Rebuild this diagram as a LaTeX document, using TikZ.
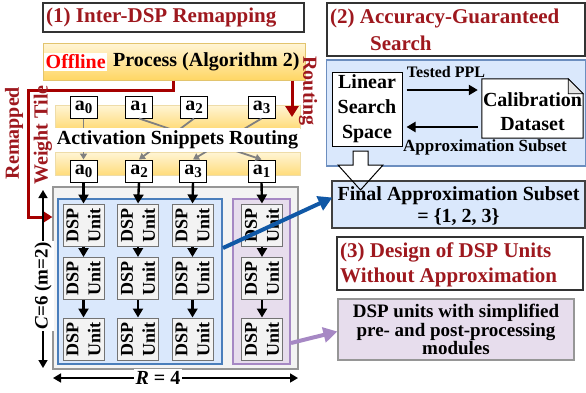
\documentclass[tikz,border=0pt]{standalone}
\usepackage{fontspec}
\setmainfont{Liberation Serif}
\usetikzlibrary{arrows.meta,calc}
\definecolor{dred}{RGB}{158,24,30}
\definecolor{arrred}{RGB}{165,0,0}
\definecolor{yelA}{RGB}{255,245,214}
\definecolor{yelB}{RGB}{255,214,100}
\definecolor{yelD}{RGB}{226,196,110}
\definecolor{lblue}{RGB}{218,232,252}
\definecolor{bblue}{RGB}{74,126,187}
\definecolor{pblue}{RGB}{108,142,191}
\definecolor{lpurp}{RGB}{231,221,237}
\definecolor{bpurp}{RGB}{166,136,196}
\definecolor{lgray}{RGB}{243,243,243}
\definecolor{mgray}{RGB}{150,150,150}
\definecolor{darrow}{RGB}{16,88,166}
\newcommand\myfs[2]{\fontsize{#1}{#2}\selectfont\bfseries}
\newcommand\asub[1]{a\raisebox{-0.35ex}{\fontsize{15}{15}\selectfont #1}}
\begin{document}
\begin{tikzpicture}[x=1pt,y=-1pt,
  box/.style={rectangle, inner sep=0pt},
  abox/.style={box, draw=black, line width=1pt, fill=white, minimum width=27, minimum height=22, font=\myfs{20}{20}},
  dsp/.style={box, draw=gray!90!black, line width=1pt, fill=lgray, rotate=90, minimum width=42, minimum height=41, align=center, font=\myfs{18}{22}},
  band/.style={box, draw=yelD!60, line width=0.8pt, top color=yelA, bottom color=yelB!85, minimum width=245, minimum height=23},
  flow/.style={line width=2.4pt, -{Triangle[length=9pt,width=10pt]}},
  gflow/.style={draw=gray, line width=1.8pt, -{Triangle[length=6pt,width=7pt]}},
  redarr/.style={draw=arrred, line width=3pt},
  title/.style={text=dred, font=\myfs{21}{25}, inner sep=0pt},
  ]
\useasboundingbox (0,0) rectangle (586,392);

% ---------- (1) Inter-DSP Remapping ----------
\node[box, draw=black!80, line width=1.2pt, minimum width=261, minimum height=29] (t1box) at (173.5,17.5) {};
\node[title, anchor=west] (t1) at (46,18) {(1) Inter-DSP Remapping};

\node[box, draw=yelD, line width=1pt, top color=yelA, bottom color=yelB, minimum width=262, minimum height=37] (offbox) at (174,61.5) {};
\node[anchor=west, fill=white, text=red, inner sep=1.5pt, font=\myfs{20}{20}] (off) at (44,62) {Offline};
\node[anchor=west, inner sep=0pt, font=\myfs{20}{20}] (proc) at (113,62) {Process (Algorithm 2)};

% routing bands
\node[band] (bandt) at (177.5,116.5) {};
\node[band] (bandb) at (177.5,163.5) {};

\node[abox] (at0) at (83.5,107) {\asub{0}};
\node[abox] (at1) at (139,107) {\asub{1}};
\node[abox] (at2) at (194,107) {\asub{2}};
\node[abox] (at3) at (261.5,107) {\asub{3}};
\node[abox] (ab1) at (83.5,171) {\asub{0}};
\node[abox] (ab2) at (139,171) {\asub{2}};
\node[abox] (ab3) at (193,171) {\asub{3}};
\node[abox] (ab4) at (261.5,171) {\asub{1}};

\draw[gflow] (at0.south) -- (ab1.north);
\draw[gflow] (at1.south) -- (ab4.north);
\draw[gflow] (at2.south) -- (ab2.north);
\draw[gflow] (at3.south) -- (ab3.north);

\node[box, fill=white, minimum width=245, minimum height=24, font=\myfs{20}{20}] (act) at (177.5,140) {Activation Snippets Routing};

% routing arrow
\coordinate (rtip) at (292,117);
\draw[redarr, -{Triangle[length=11pt,width=13pt]}] (offbox.south -| rtip) -- (rtip);
\node[rotate=-90, text=dred, font=\myfs{20}{20}, inner sep=0] (routing) at (308,91) {Routing};

% grid
\node[box, draw=mgray, line width=1.2pt, fill=lgray, minimum width=245, minimum height=182] (grid) at (175.5,278) {};
\node[box, draw=bblue, line width=2pt, fill=lblue, minimum width=164, minimum height=165] (bluebox) at (140,281.5) {};
\node[box, draw=bpurp, line width=2pt, fill=lpurp, minimum width=57, minimum height=165] (purpbox) at (261.5,281.5) {};

\foreach \x/\c in {83.5/1,138/2,192.5/3,262/4}
  \foreach \y/\r in {225/1,278.5/2,339/3}
    \node[dsp] (d\c\r) at (\x,\y) {DSP\\Unit};

\foreach \c in {1,2,3,4} {
  \draw[flow] (ab\c.south) -- (d\c1.east);
  \draw[flow] (d\c1.west) -- (d\c2.east);
  \draw[flow] (d\c2.west) -- (d\c3.east);
}

% remapped weight tile
\coordinate (rw1) at (173,90);
\coordinate (rw2) at (28,90);
\coordinate (rw3) at (28,217);
\draw[redarr, -{Triangle[length=10pt,width=12pt]}] (offbox.south -| rw1) -- (rw1) -- (rw2) -- (rw3) -- (grid.west |- rw3);
\node[rotate=90, text=dred, font=\myfs{20}{20}, inner sep=0] (remapped) at (14,133) {Remapped};
\node[rotate=90, text=dred, font=\myfs{20}{20}, inner sep=0] (wtile) at (43,135) {Weight Tile};

% dimension arrows
\coordinate (ctop) at (43,190);
\coordinate (cbot) at (43,368);
\draw[line width=1.6pt, {Triangle[length=8pt,width=9pt]}-{Triangle[length=8pt,width=9pt]}] (ctop) -- (cbot);
\node[rotate=90, fill=white, font=\myfs{19}{19}, inner sep=2pt] (clab) at (43,286) {\textit{C}=6 (m=2)};
\coordinate (rl) at (53,378);
\coordinate (rr) at (298,378);
\draw[line width=1.6pt, {Triangle[length=8pt,width=9pt]}-{Triangle[length=8pt,width=9pt]}] (rl) -- (rr);
\node[fill=white, font=\myfs{20}{20}, inner sep=2pt] (rlab) at (158,378) {\textit{R} = 4};

% ---------- (2) Accuracy-Guaranteed Search ----------
\node[box, draw=black!80, line width=1.2pt, minimum width=258, minimum height=53] (t2box) at (456,29.5) {};
\node[title, anchor=west] (t2a) at (330,18) {(2) Accuracy-Guaranteed};
\node[title, anchor=west] (t2b) at (370,43) {Search};

\node[box, draw=pblue, line width=1.5pt, fill=lblue, minimum width=259, minimum height=106] (panel) at (456,113) {};
\node[box, draw=black, line width=1pt, fill=white, minimum width=70, minimum height=74, align=center, font=\myfs{20}{25}] (lin) at (367,109) {Linear\\Search\\Space};

\node[box, minimum width=101, minimum height=59] (calib) at (532.5,108.5) {};
\draw[fill=white, line width=1pt] (calib.north west) -- ($(calib.north east)+(-15,0)$) -- ($(calib.north east)+(0,15)$) -- (calib.south east) -- (calib.south west) -- cycle;
\draw[fill=gray!20, line width=0.8pt] ($(calib.north east)+(-15,0)$) -- ($(calib.north east)+(-15,15)$) -- ($(calib.north east)+(0,15)$) -- cycle;
\node[align=center, font=\myfs{20}{24}, inner sep=0] (calibt) at ($(calib)+(0,3)$) {Calibration\\Dataset};

\coordinate (ya) at (0,90);
\coordinate (yb) at (0,127);
\draw[flow] ($(lin.east |- ya)+(4,0)$) -- ($(calib.west |- ya)+(-4,0)$);
\draw[flow] ($(calib.west |- yb)+(-4,0)$) -- ($(lin.east |- yb)+(4,0)$);
\node[font=\myfs{16}{16}, inner sep=0] (tppl) at (446,72) {Tested PPL};
\node[font=\myfs{17}{17}, inner sep=0] (asubt) at (485,147) {Approximation Subset};

% block arrow down
\path[fill=white] (353,151) -- (368,151) -- (368,165) -- (383,165) -- (360.5,190) -- (338,165) -- (353,165) -- cycle;
\node[box, draw=black!75, line width=1.2pt, fill=lblue, minimum width=253, minimum height=47] (final) at (458.5,204.5) {};
\draw[line width=1pt, line join=miter] (353,151) -- (368,151) -- (368,165) -- (383,165) -- (360.5,190) -- (338,165) -- (353,165) -- cycle;
\node[align=center, font=\myfs{20}{22}, inner sep=0] (finalt) at (458.5,206) {Final Approximation Subset\\= \{1, 2, 3\}};

% ---------- (3) ----------
\node[box, draw=black!80, line width=1.2pt, minimum width=246, minimum height=53] (t3box) at (460,263.5) {};
\node[title, anchor=west, align=left] (t3) at (340,264.5) {(3) Design of DSP Units\\Without Approximation};

\node[box, draw=mgray, line width=1.2pt, fill=lpurp, minimum width=236, minimum height=61, align=center, font=\myfs{19}{17}] (expl) at (456,329.5) {DSP units with simplified\\pre- and post-processing\\modules};

% big connectors
\coordinate (bst) at (222,248);
\draw[darrow, line width=4pt, -{Triangle[length=14pt,width=15pt]}] (bluebox.east |- bst) -- ($(final.west)+(1,-7)$);
\coordinate (pst) at (291,343);
\draw[bpurp, line width=4pt, -{Triangle[length=14pt,width=15pt]}] (pst) -- ($(expl.west)+(0,2)$);
\end{tikzpicture}
\end{document}
